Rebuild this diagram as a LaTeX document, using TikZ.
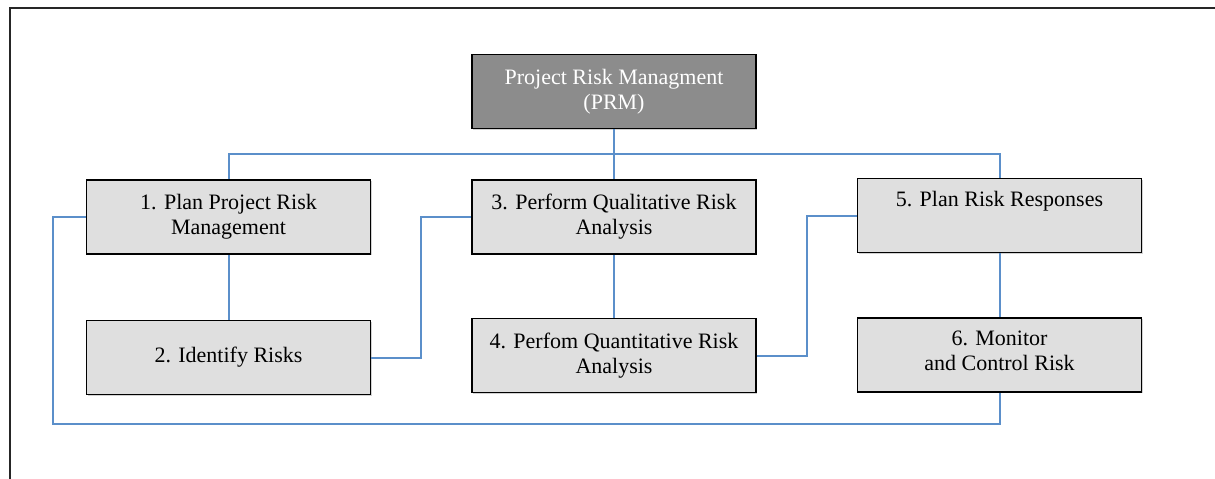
\documentclass[tikz,border=0pt]{standalone}
\usepackage{fontspec}
\setmainfont{Liberation Serif}
\newfontfamily\boxfont{Liberation Serif}
\usepackage{xcolor}
\usepackage{tikz}
\usetikzlibrary{positioning, calc, shadows}

\definecolor{linkblue}{RGB}{91,143,202}
\definecolor{boxgray}{RGB}{223,223,223}
\definecolor{headgray}{RGB}{140,140,140}

\begin{document}
\begin{tikzpicture}[
          x=1pt, y=1pt,
          node distance=63pt and 100pt,
          every node/.style={font=\boxfont\fontsize{22}{25}\selectfont},
          task/.style={draw, line width=1.5pt, fill=boxgray, minimum height=74pt, minimum width=284pt, align=center,
                       drop shadow={shadow xshift=1pt, shadow yshift=-1pt, fill=gray!70}},
          head/.style={task, fill=headgray, text=white},
          link/.style={draw=linkblue, line width=2pt},
          frame/.style={draw=black!85, line width=2pt}
      ]
      \useasboundingbox (0,0) rectangle (1215,-479);

      % Frame
      \draw[frame] (10,-479) -- (10,-7.5) -- (1215,-7.5);

      % Nodes
      \node[head] (prm) at (614,-91.5) {Project Risk Managment\\(PRM)};
      \node[task, below=50pt of prm] (quali) {3. Perform Qualitative Risk\\Analysis};
      \node[task, left=of quali] (plan) {1. Plan Project Risk\\Management};
      \node[task, right=of quali, yshift=1.5pt] (respond) {5. Plan Risk Responses\\[8pt]\mbox{}};
      \node[task, below=of quali] (quanti) {4. Perfom Quantitative Risk\\Analysis};
      \node[task, below=65pt of plan] (identify) {2. Identify Risks};
      \node[task, below=64pt of respond] (monitor) {6. Monitor\\and Control Risk\\[-17pt]\mbox{}};

      \coordinate (bus) at ($(prm.south)!.5!(quali.north)$);
      \coordinate[below=31pt of monitor.south] (back);

      % Links
      \draw[link] (prm) -- (quali);
      \draw[link] (plan.north) |- (bus) -| (respond.north);
      \draw[link] (plan) -- (identify);
      \draw[link] (quali) -- (quanti);
      \draw[link] (respond) -- (monitor);
      \draw[link] (identify.east) -- ++(50pt,0) |- (quali.west);
      \draw[link] (quanti.east) -- ++(50pt,0) |- (respond.west);
      \draw[link] (plan.west) -- ++(-33pt,0) |- (back) -- (monitor.south);

      \end{tikzpicture}
\end{document}
